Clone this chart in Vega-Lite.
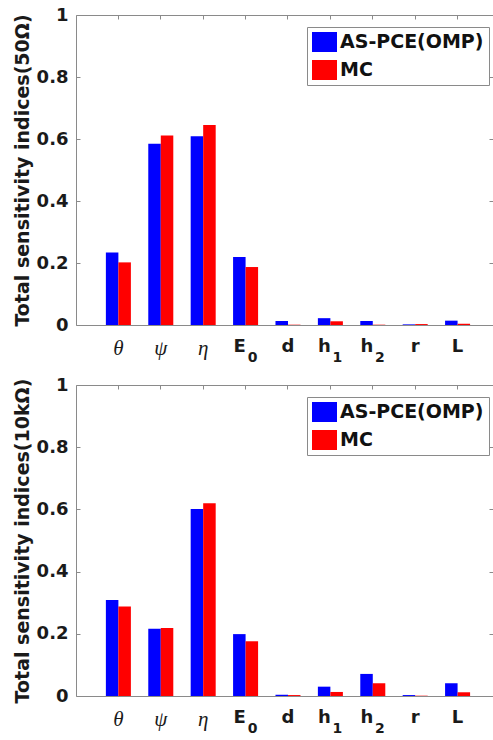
{
  "$schema": "https://vega.github.io/schema/vega-lite/v6.json",
  "padding": {"left": 13, "top": 6, "right": 0, "bottom": 0},
  "bounds": "flush",
  "spacing": 60,
  "config": {
    "view": {"stroke": null},
    "axis": {
      "labelFont": "DejaVu Sans", "labelFontWeight": "bold", "labelFontSize": 18, "labelColor": "#1a1a1a",
      "titleFont": "DejaVu Sans", "titleFontWeight": "bold", "titleFontSize": 19, "titleColor": "#1a1a1a",
      "domain": true, "domainColor": "#8a8a8a", "grid": false, "tickColor": "#8a8a8a"
    },
    "legend": {
      "strokeColor": "#8a8a8a", "fillColor": "#ffffff", "padding": 5,
      "symbolType": "M-1.25,-1L1.25,-1L1.25,1L-1.25,1Z", "symbolSize": 400, "symbolStrokeWidth": 0,
      "symbolOffset": 2.5, "labelOffset": 5.5, "rowPadding": 8,
      "labelFont": "DejaVu Sans", "labelFontWeight": "bold", "labelFontSize": 19, "labelColor": "#111111",
      "labelLimit": 300
    }
  },
  "datasets": {
    "bars": [
      {"load": "50Ω", "param": "θ", "method": "AS-PCE(OMP)", "value": 0.234},
      {"load": "50Ω", "param": "θ", "method": "MC", "value": 0.202},
      {"load": "50Ω", "param": "ψ", "method": "AS-PCE(OMP)", "value": 0.585},
      {"load": "50Ω", "param": "ψ", "method": "MC", "value": 0.611},
      {"load": "50Ω", "param": "η", "method": "AS-PCE(OMP)", "value": 0.609},
      {"load": "50Ω", "param": "η", "method": "MC", "value": 0.645},
      {"load": "50Ω", "param": "E0", "method": "AS-PCE(OMP)", "value": 0.219},
      {"load": "50Ω", "param": "E0", "method": "MC", "value": 0.187},
      {"load": "50Ω", "param": "d", "method": "AS-PCE(OMP)", "value": 0.013},
      {"load": "50Ω", "param": "d", "method": "MC", "value": 0.001},
      {"load": "50Ω", "param": "h1", "method": "AS-PCE(OMP)", "value": 0.022},
      {"load": "50Ω", "param": "h1", "method": "MC", "value": 0.012},
      {"load": "50Ω", "param": "h2", "method": "AS-PCE(OMP)", "value": 0.013},
      {"load": "50Ω", "param": "h2", "method": "MC", "value": 0.001},
      {"load": "50Ω", "param": "r", "method": "AS-PCE(OMP)", "value": 0.002},
      {"load": "50Ω", "param": "r", "method": "MC", "value": 0.003},
      {"load": "50Ω", "param": "L", "method": "AS-PCE(OMP)", "value": 0.014},
      {"load": "50Ω", "param": "L", "method": "MC", "value": 0.004},
      {"load": "10kΩ", "param": "θ", "method": "AS-PCE(OMP)", "value": 0.309},
      {"load": "10kΩ", "param": "θ", "method": "MC", "value": 0.288},
      {"load": "10kΩ", "param": "ψ", "method": "AS-PCE(OMP)", "value": 0.216},
      {"load": "10kΩ", "param": "ψ", "method": "MC", "value": 0.219},
      {"load": "10kΩ", "param": "η", "method": "AS-PCE(OMP)", "value": 0.601},
      {"load": "10kΩ", "param": "η", "method": "MC", "value": 0.620},
      {"load": "10kΩ", "param": "E0", "method": "AS-PCE(OMP)", "value": 0.199},
      {"load": "10kΩ", "param": "E0", "method": "MC", "value": 0.176},
      {"load": "10kΩ", "param": "d", "method": "AS-PCE(OMP)", "value": 0.004},
      {"load": "10kΩ", "param": "d", "method": "MC", "value": 0.003},
      {"load": "10kΩ", "param": "h1", "method": "AS-PCE(OMP)", "value": 0.030},
      {"load": "10kΩ", "param": "h1", "method": "MC", "value": 0.013},
      {"load": "10kΩ", "param": "h2", "method": "AS-PCE(OMP)", "value": 0.071},
      {"load": "10kΩ", "param": "h2", "method": "MC", "value": 0.041},
      {"load": "10kΩ", "param": "r", "method": "AS-PCE(OMP)", "value": 0.003},
      {"load": "10kΩ", "param": "r", "method": "MC", "value": 0.001},
      {"load": "10kΩ", "param": "L", "method": "AS-PCE(OMP)", "value": 0.041},
      {"load": "10kΩ", "param": "L", "method": "MC", "value": 0.012}
    ],
    "subs": [
      {"param": "E0", "sub": "0"},
      {"param": "h1", "sub": "1"},
      {"param": "h2", "sub": "2"}
    ]
  },
  "resolve": {"legend": {"color": "independent"}},
  "vconcat": [
    {
      "width": 417, "height": 310,
      "resolve": {"axis": {"x": "independent", "y": "independent"}},
      "layer": [
        {
          "data": {"name": "bars"},
          "transform": [{"filter": "datum.load == '50Ω'"}],
          "mark": {"type": "bar"},
          "encoding": {
            "x": {
              "field": "param", "type": "nominal",
              "sort": ["θ", "ψ", "η", "E0", "d", "h1", "h2", "r", "L"],
              "scale": {"paddingInner": 0.41, "paddingOuter": 0.6225, "align": 0.566},
              "axis": {
                "orient": "bottom", "title": null, "ticks": false, "labelAngle": 0, "labelPadding": 12,
                "labelExpr": "datum.value == 'E0' ? 'E' : (datum.value == 'h1' || datum.value == 'h2') ? 'h' : datum.value",
                "labelFont": {"condition": {"test": "indexof(['θ','ψ','η'], datum.value) >= 0", "value": "Liberation Serif"}, "value": "DejaVu Sans"},
                "labelFontStyle": {"condition": {"test": "indexof(['θ','ψ','η'], datum.value) >= 0", "value": "italic"}, "value": "normal"},
                "labelFontWeight": {"condition": {"test": "indexof(['θ','ψ','η'], datum.value) >= 0", "value": "normal"}, "value": "bold"},
                "labelFontSize": {"condition": {"test": "indexof(['θ','ψ','η'], datum.value) >= 0", "value": 21}, "value": 18},
                "labelOffset": {"condition": {"test": "datum.value == 'E0' || datum.value == 'h1' || datum.value == 'h2'", "value": -6}, "value": 0}
              }
            },
            "xOffset": {"field": "method", "sort": ["AS-PCE(OMP)", "MC"]},
            "y": {
              "field": "value", "type": "quantitative",
              "scale": {"domain": [0, 1], "nice": false},
              "axis": {"values": [0, 0.2, 0.4, 0.6, 0.8, 1], "format": "~g", "title": "Total sensitivity indices(50Ω)", "tickSize": -4, "labelPadding": 12, "titlePadding": 4}
            },
            "color": {
              "field": "method", "type": "nominal",
              "scale": {"domain": ["AS-PCE(OMP)", "MC"], "range": ["#0000FF", "#FF0000"]},
              "legend": {"title": null, "orient": "none", "legendX": 231, "legendY": 12}
            }
          }
        },
        {
          "data": {"name": "bars"},
          "transform": [{"filter": "datum.load == '50Ω'"}],
          "mark": {"type": "point", "opacity": 0},
          "encoding": {
            "x": {"field": "param", "type": "nominal", "sort": ["θ", "ψ", "η", "E0", "d", "h1", "h2", "r", "L"], "axis": {"orient": "top", "title": null, "labels": false, "tickSize": -4}},
            "y": {"field": "value", "type": "quantitative", "axis": {"orient": "right", "title": null, "labels": false, "domain": false, "values": [0, 0.2, 0.4, 0.6, 0.8, 1], "tickSize": -4}}
          }
        },
        {
          "data": {"name": "subs"},
          "mark": {"type": "text", "font": "DejaVu Sans", "fontWeight": "bold", "fontSize": 14, "dx": 7, "dy": 33, "baseline": "middle", "align": "center", "color": "#1a1a1a"},
          "encoding": {
            "x": {"field": "param", "type": "nominal", "sort": ["θ", "ψ", "η", "E0", "d", "h1", "h2", "r", "L"], "axis": null},
            "y": {"datum": 0, "type": "quantitative", "axis": null},
            "text": {"field": "sub"}
          }
        }
      ]
    },
    {
      "width": 417, "height": 311,
      "resolve": {"axis": {"x": "independent", "y": "independent"}},
      "layer": [
        {
          "data": {"name": "bars"},
          "transform": [{"filter": "datum.load == '10kΩ'"}],
          "mark": {"type": "bar"},
          "encoding": {
            "x": {
              "field": "param", "type": "nominal",
              "sort": ["θ", "ψ", "η", "E0", "d", "h1", "h2", "r", "L"],
              "scale": {"paddingInner": 0.41, "paddingOuter": 0.6225, "align": 0.566},
              "axis": {
                "orient": "bottom", "title": null, "ticks": false, "labelAngle": 0, "labelPadding": 12,
                "labelExpr": "datum.value == 'E0' ? 'E' : (datum.value == 'h1' || datum.value == 'h2') ? 'h' : datum.value",
                "labelFont": {"condition": {"test": "indexof(['θ','ψ','η'], datum.value) >= 0", "value": "Liberation Serif"}, "value": "DejaVu Sans"},
                "labelFontStyle": {"condition": {"test": "indexof(['θ','ψ','η'], datum.value) >= 0", "value": "italic"}, "value": "normal"},
                "labelFontWeight": {"condition": {"test": "indexof(['θ','ψ','η'], datum.value) >= 0", "value": "normal"}, "value": "bold"},
                "labelFontSize": {"condition": {"test": "indexof(['θ','ψ','η'], datum.value) >= 0", "value": 21}, "value": 18},
                "labelOffset": {"condition": {"test": "datum.value == 'E0' || datum.value == 'h1' || datum.value == 'h2'", "value": -6}, "value": 0}
              }
            },
            "xOffset": {"field": "method", "sort": ["AS-PCE(OMP)", "MC"]},
            "y": {
              "field": "value", "type": "quantitative",
              "scale": {"domain": [0, 1], "nice": false},
              "axis": {"values": [0, 0.2, 0.4, 0.6, 0.8, 1], "format": "~g", "title": "Total sensitivity indices(10kΩ)", "tickSize": -4, "labelPadding": 12, "titlePadding": 4}
            },
            "color": {
              "field": "method", "type": "nominal",
              "scale": {"domain": ["AS-PCE(OMP)", "MC"], "range": ["#0000FF", "#FF0000"]},
              "legend": {"title": null, "orient": "none", "legendX": 231, "legendY": 12}
            }
          }
        },
        {
          "data": {"name": "bars"},
          "transform": [{"filter": "datum.load == '10kΩ'"}],
          "mark": {"type": "point", "opacity": 0},
          "encoding": {
            "x": {"field": "param", "type": "nominal", "sort": ["θ", "ψ", "η", "E0", "d", "h1", "h2", "r", "L"], "axis": {"orient": "top", "title": null, "labels": false, "tickSize": -4}},
            "y": {"field": "value", "type": "quantitative", "axis": {"orient": "right", "title": null, "labels": false, "domain": false, "values": [0, 0.2, 0.4, 0.6, 0.8, 1], "tickSize": -4}}
          }
        },
        {
          "data": {"name": "subs"},
          "mark": {"type": "text", "font": "DejaVu Sans", "fontWeight": "bold", "fontSize": 14, "dx": 7, "dy": 33, "baseline": "middle", "align": "center", "color": "#1a1a1a"},
          "encoding": {
            "x": {"field": "param", "type": "nominal", "sort": ["θ", "ψ", "η", "E0", "d", "h1", "h2", "r", "L"], "axis": null},
            "y": {"datum": 0, "type": "quantitative", "axis": null},
            "text": {"field": "sub"}
          }
        }
      ]
    }
  ]
}
